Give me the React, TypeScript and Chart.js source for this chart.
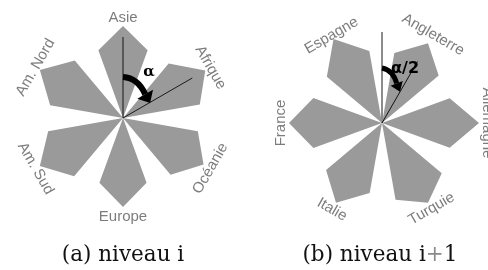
import React, { useEffect, useRef } from "react";
import { Chart, registerables } from "chart.js";

Chart.register(...registerables);

const SPOKES = 18;

// Diagram (a) — niveau i
const regionsA = ["Asie", "Afrique", "Océanie", "Europe", "Am. Sud", "Am. Nord"];
const tipA = [92, 95, 93, 89, 96, 96];
const leftShoulderA = [72, 71, 76, 69, 76, 74];
const rightShoulderA = [72, 78, 74, 69, 76, 75];
const captionA = ["(a) niveau i"];

// Diagram (b) — niveau i+1
const regionsB = ["Angleterre", "Allemagne", "Turquie", "Italie", "France", "Espagne"];
const tipB = [92, 97, 92, 92, 93, 97];
const leftShoulderB = [71, 72, 78, 71, 73, 72];
const rightShoulderB = [74, 72, 78, 73, 73, 73];
const captionB = ["(b) niveau i", "+", "1"];

const PETAL = "#9a9a9a";
const LABEL = "#7d7d7d";

function buildLabels(names: string[], firstSpoke: number) {
  const labels = new Array(SPOKES).fill("");
  names.forEach((n, i) => {
    labels[(firstSpoke + 3 * i) % SPOKES] = n;
  });
  return labels;
}

function buildPetals(tips: number[], lefts: number[], rights: number[], firstSpoke: number) {
  return tips.map((t, i) => {
    const data = new Array(SPOKES).fill(0);
    const k = firstSpoke + 3 * i;
    data[(k + SPOKES - 1) % SPOKES] = lefts[i];
    data[k % SPOKES] = t;
    data[(k + 1) % SPOKES] = rights[i];
    return {
      data,
      fill: "origin",
      backgroundColor: PETAL,
      borderWidth: 0,
      borderColor: PETAL,
      pointRadius: 0,
      pointHoverRadius: 0,
      tension: 0,
    };
  });
}

function polar(scale: any, deg: number, v: number) {
  const d = scale.getDistanceFromCenterForValue(v);
  const a = (deg * Math.PI) / 180;
  return { x: scale.xCenter + Math.sin(a) * d, y: scale.yCenter - Math.cos(a) * d };
}

const decorPlugin = {
  id: "decor",
  afterDatasetsDraw(chart: any, _args: any, opts: any) {
    const scale = chart.scales.r;
    const ctx = chart.ctx;
    ctx.save();

    // reference lines
    for (const ln of opts.lines) {
      const p = polar(scale, ln.angle, ln.value);
      ctx.beginPath();
      ctx.moveTo(scale.xCenter, scale.yCenter);
      ctx.lineTo(p.x, p.y);
      ctx.strokeStyle = ln.color;
      ctx.lineWidth = ln.width;
      ctx.stroke();
    }

    // curved arrow
    const ar = opts.arrow;
    const s = polar(scale, ar.start[0], ar.start[1]);
    const c = polar(scale, ar.ctrl[0], ar.ctrl[1]);
    const b = polar(scale, ar.base[0], ar.base[1]);
    const t = polar(scale, ar.tip[0], ar.tip[1]);
    ctx.beginPath();
    ctx.moveTo(s.x, s.y);
    ctx.quadraticCurveTo(c.x, c.y, b.x, b.y);
    ctx.strokeStyle = "#000";
    ctx.lineWidth = ar.shaft;
    ctx.lineCap = "butt";
    ctx.stroke();
    const dx = t.x - b.x, dy = t.y - b.y;
    const L = Math.hypot(dx, dy);
    const nx = -dy / L, ny = dx / L;
    ctx.beginPath();
    ctx.moveTo(t.x, t.y);
    ctx.lineTo(b.x + nx * ar.half, b.y + ny * ar.half);
    ctx.lineTo(b.x - nx * ar.half, b.y - ny * ar.half);
    ctx.closePath();
    ctx.fillStyle = "#000";
    ctx.fill();

    // angle symbol
    const sy = opts.symbol;
    const sp = polar(scale, sy.angle, sy.value);
    ctx.font = sy.font;
    ctx.fillStyle = "#000";
    ctx.textAlign = "center";
    ctx.textBaseline = "middle";
    ctx.fillText(sy.text, sp.x, sp.y);

    // rotated category labels
    const labels: string[] = chart.data.labels;
    ctx.font = opts.labelFont;
    ctx.fillStyle = LABEL;
    let li = 0;
    labels.forEach((lab, i) => {
      if (!lab) return;
      const r = opts.labelValues[li++];
      const ang = scale.getIndexAngle(i);
      const pos = scale.getPointPosition(i, scale.getDistanceFromCenterForValue(r));
      let deg = (ang * 180) / Math.PI;
      deg = ((deg % 360) + 360) % 360;
      if (deg > 180) deg -= 360;
      let rot = deg;
      if (Math.abs(deg) > 90) rot = deg > 0 ? deg - 180 : deg + 180;
      ctx.save();
      ctx.translate(pos.x, pos.y);
      ctx.rotate((rot * Math.PI) / 180);
      ctx.textAlign = "center";
      ctx.textBaseline = "middle";
      ctx.fillText(lab, 0, 0);
      ctx.restore();
    });

    // caption
    const parts: string[] = opts.caption;
    ctx.font = opts.captionFont;
    ctx.textAlign = "left";
    ctx.textBaseline = "alphabetic";
    const widths = parts.map((p) => ctx.measureText(p).width);
    const total = widths.reduce((a, w) => a + w, 0);
    let x = scale.xCenter + opts.captionDx - total / 2;
    parts.forEach((p, i) => {
      ctx.fillStyle = p === "+" ? "#8a8a8a" : "#111";
      ctx.fillText(p, x, opts.captionY);
      x += widths[i];
    });

    ctx.restore();
  },
};

function makeConfig(
  names: string[],
  tips: number[],
  lefts: number[],
  rights: number[],
  firstSpoke: number,
  startAngle: number,
  padding: any,
  decor: any
): any {
  return {
    type: "radar",
    data: {
      labels: buildLabels(names, firstSpoke),
      datasets: buildPetals(tips, lefts, rights, firstSpoke),
    },
    options: {
      animation: false,
      responsive: false,
      events: [],
      layout: { padding },
      elements: { line: { borderWidth: 0 } },
      scales: {
        r: {
          min: 0,
          max: 100,
          startAngle,
          ticks: { display: false },
          grid: { display: false },
          angleLines: { display: false },
          pointLabels: { display: false },
        },
      },
      plugins: {
        legend: { display: false },
        tooltip: { enabled: false },
        title: { display: false },
        decor,
      },
    },
    plugins: [decorPlugin],
  };
}

export default function App() {
  const refA = useRef<HTMLCanvasElement>(null);
  const refB = useRef<HTMLCanvasElement>(null);

  useEffect(() => {
    const chartA = new Chart(
      refA.current!,
      makeConfig(
        regionsA,
        tipA,
        leftShoulderA,
        rightShoulderA,
        0,
        0,
        { left: 23, top: 18, right: 21, bottom: 52 },
        {
          labelValues: [100, 101, 101, 99, 101, 101],
          labelFont: '15px "Liberation Sans", Arial, sans-serif',
          lines: [
            { angle: 0, value: 81, color: "#333333", width: 1.3 },
            { angle: 60, value: 80, color: "#1a1a1a", width: 1 },
          ],
          arrow: { start: [0, 41], ctrl: [20.6, 42.7], base: [43, 32.5], tip: [61, 31], shaft: 6, half: 9 },
          symbol: { text: "α", angle: 29.5, value: 53, font: 'bold 15px "DejaVu Serif", serif' },
          caption: captionA,
          captionFont: '21.5px "DejaVu Serif", serif',
          captionY: 261,
          captionDx: 0,
        }
      )
    );
    const chartB = new Chart(
      refB.current!,
      makeConfig(
        regionsB,
        tipB,
        leftShoulderB,
        rightShoulderB,
        1,
        10,
        { left: 38, top: 23, right: 6, bottom: 47 },
        {
          labelValues: [102, 105, 99, 100, 101, 101],
          labelFont: '15px "Liberation Sans", Arial, sans-serif',
          lines: [
            { angle: 0, value: 91, color: "#8c8c8c", width: 2 },
            { angle: 30, value: 71, color: "#111111", width: 1 },
          ],
          arrow: { start: [0, 55], ctrl: [11.7, 54], base: [20.3, 42.3], tip: [30, 36], shaft: 5, half: 6.5 },
          symbol: { text: "α/2", angle: 23, value: 59, font: 'bold 16px "DejaVu Sans", sans-serif' },
          caption: captionB,
          captionFont: '21.5px "DejaVu Serif", serif',
          captionY: 261,
          captionDx: -2,
        }
      )
    );
    return () => {
      chartA.destroy();
      chartB.destroy();
    };
  }, []);

  return (
    <div style={{ position: "absolute", left: 0, top: 0, width: 488, height: 270, background: "#fff" }}>
      <canvas ref={refA} width={244} height={270} style={{ position: "absolute", left: 0, top: 0, width: 244, height: 270 }} />
      <canvas ref={refB} width={244} height={270} style={{ position: "absolute", left: 244, top: 0, width: 244, height: 270 }} />
    </div>
  );
}
